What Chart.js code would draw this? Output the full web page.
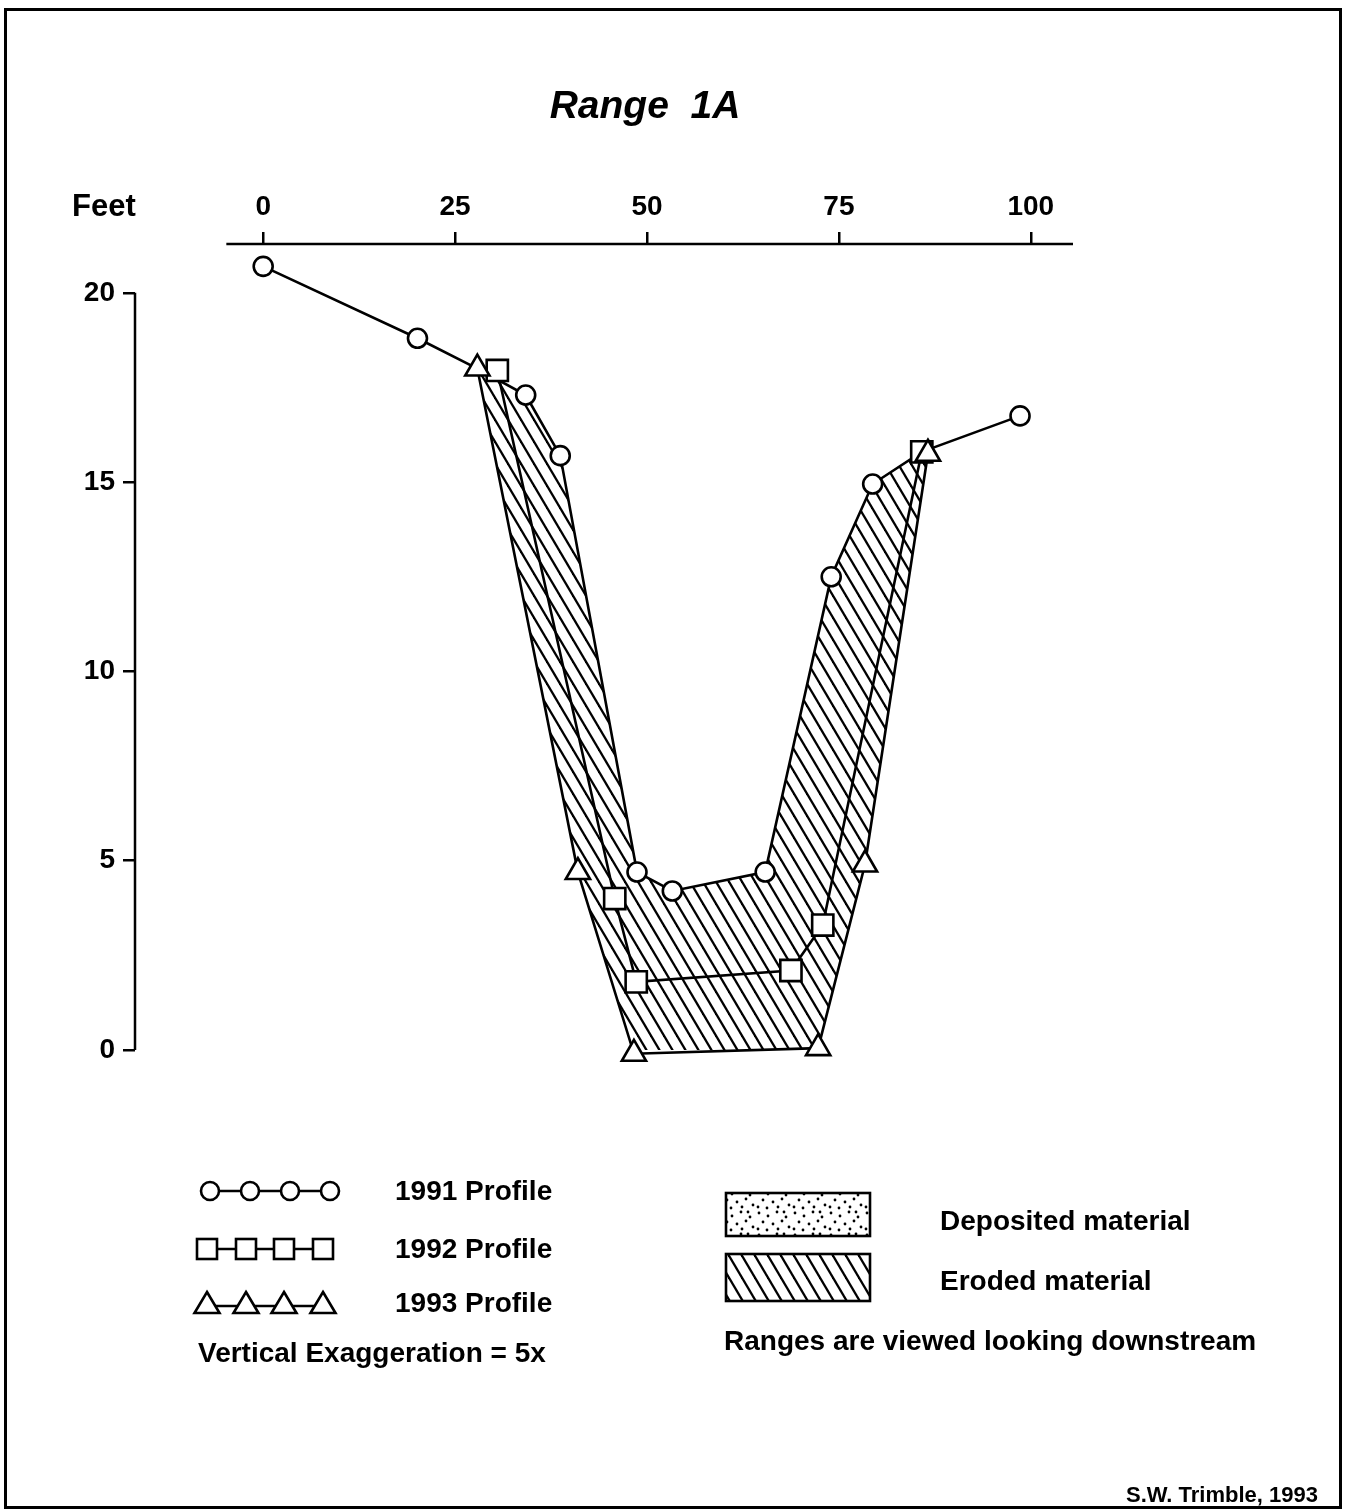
<!DOCTYPE html>
<html>
<head>
<meta charset="utf-8">
<script src="https://cdn.jsdelivr.net/npm/chart.js@4.4.1/dist/chart.umd.min.js"></script>
<style>
  html, body { margin: 0; padding: 0; background: #fff; }
  #wrap { position: relative; width: 1350px; height: 1512px; font-family: "Liberation Sans", Arial, Helvetica, sans-serif; color: #000; }
  #frame { position: absolute; left: 4px; top: 8px; width: 1332px; height: 1495px; border: 3px solid #000; }
  canvas { position: absolute; left: 0; top: 0; }
  .t { position: absolute; white-space: pre; font-weight: bold; line-height: 1; }
</style>
</head>
<body>
<div id="wrap">
  <div id="frame"></div>
  <canvas id="chart" width="1350" height="1512"></canvas>
  <div class="t" style="left:0;width:1290px;text-align:center;top:85px;font-size:39px;font-style:italic;">Range  1A</div>
  <div class="t" style="left:72px;top:190px;font-size:31px;">Feet</div>
  <div class="t" style="left:395px;top:1177px;font-size:28px;">1991 Profile</div>
  <div class="t" style="left:395px;top:1235px;font-size:28px;">1992 Profile</div>
  <div class="t" style="left:395px;top:1289px;font-size:28px;">1993 Profile</div>
  <div class="t" style="left:198px;top:1339px;font-size:28px;">Vertical Exaggeration = 5x</div>
  <div class="t" style="left:940px;top:1207px;font-size:28px;">Deposited material</div>
  <div class="t" style="left:940px;top:1267px;font-size:28px;">Eroded material</div>
  <div class="t" style="left:724px;top:1327px;font-size:28px;">Ranges are viewed looking downstream</div>
  <div class="t" style="right:32px;top:1484px;font-size:22px;">S.W. Trimble, 1993</div>
</div>
<script>
// axis ticks (feet)
const xTicks = [0, 25, 50, 75, 100];
const yTicks = [0, 5, 10, 15, 20];

// 1991 profile: distance across (ft) / elevation (ft)
const dist1991 = [0, 20.1, 27.9, 34.2, 38.7, 48.7, 53.3, 65.4, 74.0, 79.4, 85.8, 98.6];
const elev1991 = [20.7, 18.8, 18.0, 17.3, 15.7, 4.7, 4.2, 4.7, 12.5, 14.95, 15.8, 16.75];
// 1991 vertices that sit under the 1992/1993 end markers (no circle drawn)
const hidden1991 = [27.9, 85.8];

// 1992 profile
const dist1992 = [30.5, 45.8, 48.6, 68.75, 72.9, 85.8];
const elev1992 = [17.95, 4.0, 1.8, 2.1, 3.3, 15.8];

// 1993 profile
const dist1993 = [27.9, 41.0, 48.3, 72.3, 78.4, 86.6];
const elev1993 = [18.0, 4.7, -0.1, 0.05, 4.9, 15.75];

const toPts = (xs, ys) => xs.map((x, i) => ({ x, y: ys[i] }));
const pts1991 = toPts(dist1991, elev1991);
const pts1992 = toPts(dist1992, elev1992);
const pts1993 = toPts(dist1993, elev1993);

// eroded area = between the 1991 surface and the 1993 surface
const lo = dist1993[0], hi = dist1991[dist1991.indexOf(85.8)];
const eroded = pts1991.filter(p => p.x >= lo && p.x <= hi).concat(pts1993.slice().reverse());

function makeHatch() {
  const c = document.createElement('canvas');
  c.width = 13; c.height = 22;
  const g = c.getContext('2d');
  g.strokeStyle = '#000';
  g.lineWidth = 2.3;
  for (const dx of [-26, -13, 0, 13, 26]) {
    g.beginPath();
    g.moveTo(dx - 13, -22);
    g.lineTo(dx + 26, 44);
    g.stroke();
  }
  return g.createPattern(c, 'repeat');
}

function makeStipple() {
  const c = document.createElement('canvas');
  c.width = 36; c.height = 22;
  const g = c.getContext('2d');
  g.fillStyle = '#000';
  const dots = [[3,3],[12,6],[21,2],[30,7],[7,12],[17,14],[26,11],[33,17],[2,19],[11,20],[22,19],[28,2]];
  dots.forEach(([x, y]) => { g.beginPath(); g.arc(x, y, 1.4, 0, Math.PI * 2); g.fill(); });
  return g.createPattern(c, 'repeat');
}

const hatch = makeHatch();
const stipple = makeStipple();

const tickFont = { family: '"Liberation Sans", Arial, sans-serif', size: 28, weight: 'bold' };

const axesAndLegend = {
  id: 'axesAndLegend',
  beforeDatasetsDraw(chart) {
    const { ctx, chartArea, scales: { x, y } } = chart;
    ctx.save();
    ctx.strokeStyle = '#000';
    ctx.lineWidth = 2.5;
    ctx.beginPath();
    ctx.moveTo(x.getPixelForValue(-4.8), chartArea.top);
    ctx.lineTo(x.getPixelForValue(105.5), chartArea.top);
    ctx.moveTo(chartArea.left, y.getPixelForValue(yTicks[0]));
    ctx.lineTo(chartArea.left, y.getPixelForValue(yTicks[yTicks.length - 1]));
    ctx.stroke();
    ctx.restore();
  },
  afterDraw(chart) {
    const ctx = chart.ctx;
    ctx.save();
    ctx.strokeStyle = '#000';
    ctx.lineWidth = 2.6;

    // circles
    ctx.beginPath(); ctx.moveTo(210, 1191); ctx.lineTo(330, 1191); ctx.stroke();
    [210, 250, 290, 330].forEach(cx => {
      ctx.beginPath(); ctx.arc(cx, 1191, 9, 0, Math.PI * 2);
      ctx.fillStyle = '#fff'; ctx.fill(); ctx.stroke();
    });
    // squares
    ctx.beginPath(); ctx.moveTo(207, 1249); ctx.lineTo(323, 1249); ctx.stroke();
    [207, 246, 284, 323].forEach(cx => {
      ctx.fillStyle = '#fff';
      ctx.fillRect(cx - 10, 1239, 20, 20);
      ctx.strokeRect(cx - 10, 1239, 20, 20);
    });
    // triangles
    ctx.beginPath(); ctx.moveTo(207, 1306); ctx.lineTo(323, 1306); ctx.stroke();
    [207, 246, 284, 323].forEach(cx => {
      ctx.beginPath();
      ctx.moveTo(cx, 1292); ctx.lineTo(cx + 12.5, 1313); ctx.lineTo(cx - 12.5, 1313); ctx.closePath();
      ctx.fillStyle = '#fff'; ctx.fill(); ctx.stroke();
    });

    // deposited / eroded swatches
    ctx.fillStyle = stipple;
    ctx.fillRect(726, 1193, 144, 43);
    ctx.strokeRect(726, 1193, 144, 43);
    ctx.fillStyle = hatch;
    ctx.fillRect(726, 1254, 144, 47);
    ctx.strokeRect(726, 1254, 144, 47);
    ctx.restore();
  }
};

const profile = (data, style, radius, order) => ({
  data,
  showLine: true,
  fill: false,
  borderColor: '#000',
  borderWidth: 2.6,
  pointStyle: style,
  pointRadius: radius,
  pointBackgroundColor: '#fff',
  pointBorderColor: '#000',
  pointBorderWidth: 2.6,
  clip: false,
  order
});

new Chart(document.getElementById('chart'), {
  type: 'scatter',
  data: {
    datasets: [
      {
        label: 'Eroded material',
        data: eroded,
        showLine: true,
        fill: 'shape',
        backgroundColor: hatch,
        borderColor: 'rgba(0,0,0,0)',
        borderWidth: 0,
        pointRadius: 0,
        clip: false,
        order: 10
      },
      profile(pts1991, 'circle', pts1991.map(p => hidden1991.includes(p.x) ? 0 : 9.5), 3),
      profile(pts1992, 'rect', 15, 2),
      profile(pts1993, 'triangle', 14, 1)
    ]
  },
  options: {
    responsive: false,
    animation: false,
    events: [],
    layout: { padding: { left: 75, right: 277, top: 184, bottom: 462 } },
    plugins: { legend: { display: false }, tooltip: { enabled: false }, title: { display: false } },
    scales: {
      x: {
        type: 'linear',
        position: 'top',
        min: -16.7,
        max: 105.5,
        afterFit: s => { s.height = 60; },
        afterBuildTicks: s => { s.ticks = xTicks.map(v => ({ value: v })); },
        border: { display: false },
        grid: { drawOnChartArea: false, drawTicks: true, tickLength: 12, color: '#000', lineWidth: 2.5 },
        ticks: { color: '#000', font: tickFont, padding: 8, maxRotation: 0 }
      },
      y: {
        type: 'linear',
        min: 0,
        max: 21.29,
        afterFit: s => { s.width = 60; },
        afterBuildTicks: s => { s.ticks = yTicks.map(v => ({ value: v })); },
        border: { display: false },
        grid: { drawOnChartArea: false, drawTicks: true, tickLength: 12, color: '#000', lineWidth: 2.5 },
        ticks: { color: '#000', font: tickFont, padding: 8 }
      }
    }
  },
  plugins: [axesAndLegend]
});
</script>
</body>
</html>
